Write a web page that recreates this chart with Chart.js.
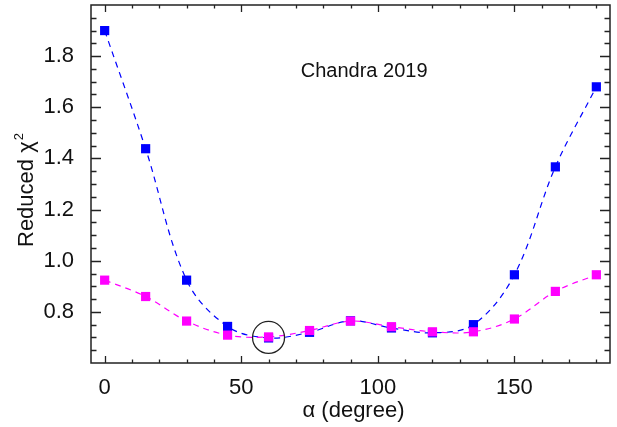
<!DOCTYPE html>
<html lang="en">
<head>
    <meta charset="UTF-8">
    <title>Chandra 2019 reduced chi2</title>
    <style>
        body { margin: 0; background: #fff; }
        #chart-container { width: 617px; height: 427px; }
    </style>
</head>
<body>
    <div id="chart-container">
        <canvas id="myChart" width="617" height="427"></canvas>
    </div>
    <script src="https://cdn.jsdelivr.net/npm/chart.js"></script>

    <script>
        // data
        const alphaDeg = [0, 15, 30, 45, 60, 75, 90, 105, 120, 135, 150, 165, 180];
        const chi2Blue = [1.90, 1.438, 0.924, 0.743, 0.698, 0.72, 0.765, 0.737, 0.718, 0.75, 0.945, 1.367, 1.68];
        const chi2Magenta = [0.924, 0.86, 0.764, 0.709, 0.702, 0.727, 0.764, 0.742, 0.722, 0.722, 0.772, 0.88, 0.945];
        const bestFit = [60, 0.70];
        const xTicks = [0, 50, 100, 150];
        const yTicks = [0.8, 1.0, 1.2, 1.4, 1.6, 1.8];
        const annotation = 'Chandra 2019';

        const FONT = '"Liberation Sans", Arial, Helvetica, sans-serif';
        const INK = '#111';

        const toPoints = ys => alphaDeg.map((x, i) => ({x: x, y: ys[i]}));

        // frame with IDL style inward ticks on all four sides + texts
        const framePlugin = {
            id: 'frame',
            afterDraw(chart) {
                const ctx = chart.ctx;
                const a = chart.chartArea;
                const xs = chart.scales.x, ys = chart.scales.y;
                ctx.save();
                ctx.strokeStyle = '#222';
                ctx.lineWidth = 1.5;
                ctx.strokeRect(a.left, a.top, a.right - a.left, a.bottom - a.top);

                ctx.lineWidth = 1.3;
                ctx.beginPath();
                for (let v = 0; v <= 180; v += 10) {
                    const px = Math.round(xs.getPixelForValue(v)) + 0.5;
                    const len = (v % 50 === 0) ? 7 : 3.5;
                    ctx.moveTo(px, a.bottom); ctx.lineTo(px, a.bottom - len);
                    ctx.moveTo(px, a.top); ctx.lineTo(px, a.top + len);
                }
                for (let k = 13; k <= 39; k++) {
                    const v = k * 0.05;
                    const py = Math.round(ys.getPixelForValue(v)) + 0.5;
                    const len = (k % 4 === 0) ? 10 : 5.5;
                    ctx.moveTo(a.left, py); ctx.lineTo(a.left + len, py);
                    ctx.moveTo(a.right, py); ctx.lineTo(a.right - len, py);
                }
                ctx.stroke();

                // annotation
                ctx.fillStyle = INK;
                ctx.font = '20px ' + FONT;
                ctx.textAlign = 'center';
                ctx.textBaseline = 'middle';
                ctx.fillText(annotation, xs.getPixelForValue(95), ys.getPixelForValue(1.74));

                // x title
                ctx.font = '22px ' + FONT;
                ctx.textBaseline = 'alphabetic';
                ctx.fillText('\u03b1 (degree)', (a.left + a.right) / 2 + 3, 417);

                // y title with superscript 2
                ctx.translate(33, 247);
                ctx.rotate(-Math.PI / 2);
                ctx.textAlign = 'left';
                ctx.font = '22px ' + FONT;
                const main = 'Reduced \u03c7';
                ctx.fillText(main, 0, 0);
                const w = ctx.measureText(main).width;
                ctx.font = '13px ' + FONT;
                ctx.fillText('2', w + 1, -10);
                ctx.restore();
            }
        };

        const ctx = document.getElementById('myChart').getContext('2d');
        new Chart(ctx, {
            type: 'line',
            data: {
                datasets: [
                    {
                        label: 'magenta',
                        data: toPoints(chi2Magenta),
                        borderColor: '#ff00ff',
                        backgroundColor: '#ff00ff',
                        borderWidth: 1.2,
                        borderDash: [6, 5],
                        tension: 0.35,
                        pointStyle: 'rect',
                        pointRadius: 6.5,
                        pointBorderWidth: 0,
                        fill: false
                    },
                    {
                        label: 'blue',
                        data: toPoints(chi2Blue),
                        borderColor: '#0000ff',
                        backgroundColor: '#0000ff',
                        borderWidth: 1.2,
                        borderDash: [6, 5],
                        tension: 0.35,
                        pointStyle: 'rect',
                        pointRadius: 6.5,
                        pointBorderWidth: 0,
                        fill: false
                    },
                    {
                        label: 'best',
                        data: [{x: bestFit[0], y: bestFit[1]}],
                        showLine: false,
                        pointStyle: 'circle',
                        pointRadius: 16,
                        pointBorderWidth: 1.3,
                        pointBorderColor: '#222',
                        pointBackgroundColor: 'rgba(0,0,0,0)',
                        order: -1
                    }
                ]
            },
            options: {
                responsive: false,
                animation: false,
                layout: { autoPadding: false, padding: { top: 5, right: 7, left: 0, bottom: 0 } },
                plugins: {
                    legend: { display: false },
                    tooltip: { enabled: false }
                },
                scales: {
                    x: {
                        type: 'linear',
                        min: -5,
                        max: 185,
                        grid: { display: false },
                        border: { display: false },
                        afterBuildTicks: s => { s.ticks = xTicks.map(v => ({value: v})); },
                        afterFit: s => { s.height = 64; s.paddingLeft = 0; s.paddingRight = 0; },
                        ticks: {
                            color: INK,
                            padding: 4,
                            maxRotation: 0,
                            font: { family: FONT, size: 22 }
                        }
                    },
                    y: {
                        min: 0.6,
                        max: 2.0,
                        grid: { display: false },
                        border: { display: false },
                        afterBuildTicks: s => { s.ticks = yTicks.map(v => ({value: v})); },
                        afterFit: s => { s.width = 91; s.paddingTop = 0; s.paddingBottom = 0; },
                        ticks: {
                            color: INK,
                            padding: 9,
                            font: { family: FONT, size: 22 },
                            callback: v => Number(v).toFixed(1)
                        }
                    }
                }
            },
            plugins: [framePlugin]
        });
    </script>
</body>
</html>
